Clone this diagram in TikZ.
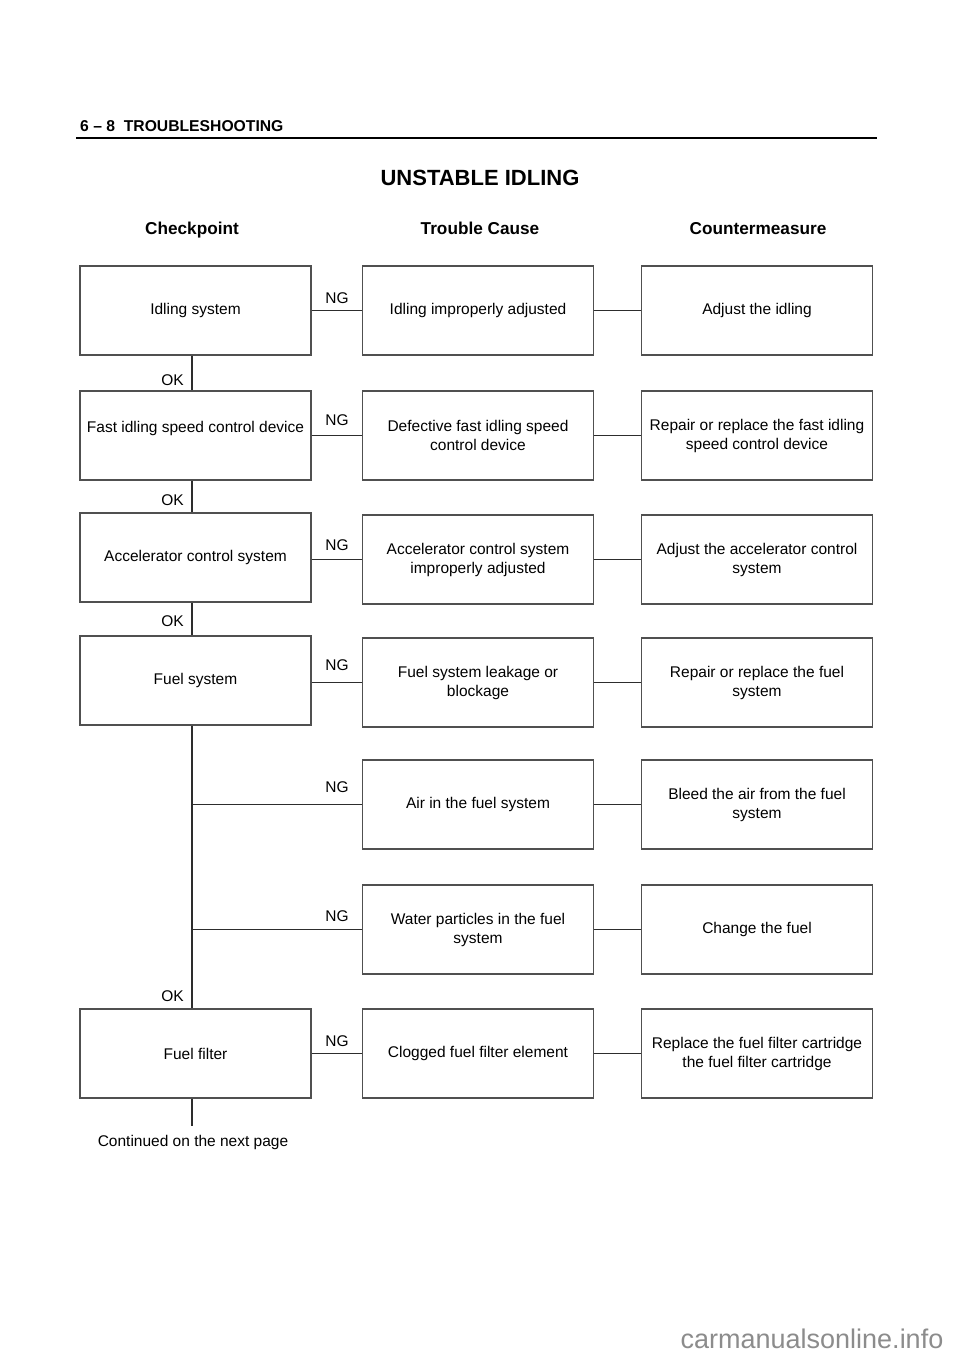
\documentclass[tikz,border=0pt]{standalone}
\usepackage{fontspec}
\setmainfont{Liberation Sans}
\definecolor{boxc}{RGB}{80,80,80}
\definecolor{linec}{RGB}{45,45,45}
\definecolor{wmark}{RGB}{140,140,140}
\begin{document}
\begin{tikzpicture}[x=1pt,y=-1pt,
  box/.style={draw=boxc,line width=1.3pt,minimum width=231pt,minimum height=89pt,inner sep=2pt,align=center,font=\fontsize{15.5pt}{19pt}\selectfont},
  conn/.style={draw=linec,line width=1.5pt},
  lab/.style={font=\fontsize{15.5pt}{19pt}\selectfont,inner sep=0pt},
  colhead/.style={font=\fontsize{17.2pt}{20pt}\selectfont\bfseries,inner sep=0pt,anchor=base}]
\useasboundingbox[fill=white] (0,0) rectangle (960,1358);
% header
\node[anchor=base west,inner sep=0pt,font=\fontsize{15.7pt}{18pt}\selectfont\bfseries] (hdr) at (80,131) {6 – 8\ \ TROUBLESHOOTING};
\draw[line width=2pt,black] (76,137.5) -- (877,137.5);
\node[inner sep=0pt,anchor=base,font=\fontsize{22pt}{26pt}\selectfont\bfseries] (title) at (480,185.5) {UNSTABLE IDLING};
\node[colhead] (h1) at (192,234.5) {Checkpoint};
\node[colhead] (h2) at (480,234.5) {Trouble Cause};
\node[colhead] (h3) at (758,234.5) {Countermeasure};
\coordinate (tx) at (192,0);
% left column
\node[box] (l1) at (195.5,310.5) {Idling system};
\node[box] (l2) at (195.5,435.5) {\raisebox{3.5pt}[0pt][0pt]{Fast idling speed control device}};
\node[box] (l3) at (195.5,557.5) {Accelerator control system};
\node[box] (l4) at (195.5,680.5) {Fuel system};
\node[box] (l7) at (195.5,1053.5) {Fuel filter};
% middle column
\node[box] (m1) at (478,310.5) {Idling improperly adjusted};
\node[box] (m2) at (478,435.5) {Defective fast idling speed\\control device};
\node[box] (m3) at (478,559.5) {Accelerator control system\\improperly adjusted};
\node[box] (m4) at (478,682.5) {Fuel system leakage or\\blockage};
\node[box] (m5) at (478,804.5) {Air in the fuel system};
\node[box] (m6) at (478,929.5) {Water particles in the fuel\\system};
\node[box] (m7) at (478,1053.5) {Clogged fuel filter element};
% right column
\node[box] (r1) at (757,310.5) {Adjust the idling};
\node[box] (r2) at (757,435.5) {Repair or replace the fast idling\\speed control device};
\node[box] (r3) at (757,559.5) {Adjust the accelerator control\\system};
\node[box] (r4) at (757,682.5) {Repair or replace the fuel\\system};
\node[box] (r5) at (757,804.5) {Bleed the air from the fuel\\system};
\node[box] (r6) at (757,929.5) {Change the fuel};
\node[box] (r7) at (757,1053.5) {Replace the fuel filter cartridge\\the fuel filter cartridge};
% NG connectors
\foreach \i in {1,2,3,4,7} {
  \draw[conn] (m\i.west -| l\i.east) -- (m\i.west);
}
\draw[conn] (m5.west -| tx) -- (m5.west);
\draw[conn] (m6.west -| tx) -- (m6.west);
\foreach \i in {1,...,7} {
  \draw[conn] (m\i.east) -- (r\i.west);
}
% OK connectors
\draw[conn] (l1.south -| tx) -- (l2.north -| tx);
\draw[conn] (l2.south -| tx) -- (l3.north -| tx);
\draw[conn] (l3.south -| tx) -- (l4.north -| tx);
\draw[conn] (l4.south -| tx) -- (l7.north -| tx);
\draw[conn] (l7.south -| tx) -- ++(0,27) coordinate (cend);
% labels
\node[lab] (ng1) at (337,298) {NG};
\node[lab] (ng2) at (337,420) {NG};
\node[lab] (ng3) at (337,545) {NG};
\node[lab] (ng4) at (337,665) {NG};
\node[lab] (ng5) at (337,787) {NG};
\node[lab] (ng6) at (337,916) {NG};
\node[lab] (ng7) at (337,1041) {NG};
\node[lab,anchor=east] (ok1) at (184,380) {OK};
\node[lab,anchor=east] (ok2) at (184,500) {OK};
\node[lab,anchor=east] (ok3) at (184,621) {OK};
\node[lab,anchor=east] (ok4) at (184,996) {OK};
\node[lab] (cont) at (193,1142) {Continued on the next page};
\node[inner sep=0pt,text=wmark,font=\fontsize{27pt}{30pt}\selectfont] (wm) at (812,1339) {carmanualsonline.info};
\end{tikzpicture}
\end{document}
